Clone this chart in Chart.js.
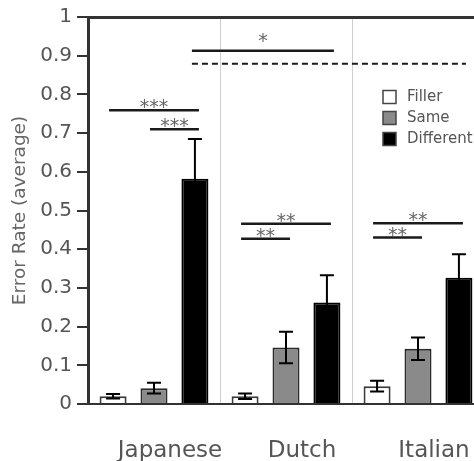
<!DOCTYPE html>
<html>
<head>
<meta charset="utf-8">
<script src="https://cdn.jsdelivr.net/npm/chart.js@4.4.0/dist/chart.umd.min.js"></script>
<style>
  html, body { margin:0; padding:0; background:#fff; overflow:hidden; width:474px; height:461px; }
  canvas { display:block; }
</style>
</head>
<body>
<canvas id="c" width="490" height="461"></canvas>
<script>
// ---- data ----
const categories = ['Japanese', 'Dutch', 'Italian'];
const seriesNames = ['Filler', 'Same', 'Different'];
const fillerValues = [0.020, 0.020, 0.046];
const sameValues = [0.041, 0.146, 0.143];
const differentValues = [0.582, 0.262, 0.326];
const fillerErrors = [0.006, 0.007, 0.014];
const sameErrors = [0.014, 0.041, 0.029];
const differentErrors = [0.103, 0.071, 0.061];
const yTickLabels = ['0','0.1','0.2','0.3','0.4','0.5','0.6','0.7','0.8','0.9','1'];
const yTitle = 'Error Rate (average)';
// significance brackets within a group: [group, fromSeries, toSeries, yValue, label]
const withinBrackets = [
  [0, 0, 2, 0.759, '***'],
  [0, 1, 2, 0.710, '***'],
  [1, 0, 2, 0.466, '**'],
  [1, 0, 1, 0.427, '**'],
  [2, 0, 2, 0.467, '**'],
  [2, 0, 1, 0.430, '**']
];
// across-group comparison of the "Different" series: [fromGroup, toGroup, yValue, label, dashed]
const acrossBrackets = [
  [0, 1, 0.913, '*', false],
  [0, 2, 0.879, '', true]
];

const FONT = 'DejaVu Sans';
const errorSets = [fillerErrors, sameErrors, differentErrors];

const errorBarPlugin = {
  id: 'errorBars',
  afterDatasetsDraw(chart) {
    const ctx = chart.ctx, y = chart.scales.y;
    ctx.save();
    ctx.strokeStyle = '#000';
    ctx.lineWidth = 2;
    chart.data.datasets.forEach((ds, i) => {
      const meta = chart.getDatasetMeta(i);
      meta.data.forEach((bar, j) => {
        const v = ds.data[j], e = errorSets[i][j];
        const yt = y.getPixelForValue(v + e), yb = y.getPixelForValue(v - e);
        const x = bar.x, hw = 7;
        ctx.beginPath();
        ctx.moveTo(x, yt); ctx.lineTo(x, yb);
        ctx.moveTo(x - hw, yt); ctx.lineTo(x + hw, yt);
        ctx.moveTo(x - hw, yb); ctx.lineTo(x + hw, yb);
        ctx.stroke();
      });
    });
    ctx.restore();
  }
};

const annotationPlugin = {
  id: 'sig',
  afterDraw(chart) {
    const ctx = chart.ctx, y = chart.scales.y;
    const barX = (s, g) => chart.getDatasetMeta(s).data[g].x;
    ctx.save();
    ctx.strokeStyle = '#1a1a1a';
    ctx.lineWidth = 2.5;
    ctx.fillStyle = '#666';
    ctx.font = '19px "' + FONT + '"';
    ctx.textAlign = 'center';
    ctx.textBaseline = 'alphabetic';
    withinBrackets.forEach(([g, a, b, v, t]) => {
      const x1 = barX(a, g) - 4, x2 = barX(b, g) + 4, py = y.getPixelForValue(v);
      ctx.beginPath(); ctx.moveTo(x1, py); ctx.lineTo(x2, py); ctx.stroke();
      ctx.fillText(t, (x1 + x2) / 2, py + 3);
    });
    acrossBrackets.forEach(([g1, g2, v, t, dashed]) => {
      const x1 = barX(2, g1) - 3, x2 = barX(2, g2) + 7, py = y.getPixelForValue(v);
      ctx.setLineDash(dashed ? [6, 4] : []);
      ctx.lineWidth = dashed ? 2 : 2.5;
      ctx.beginPath(); ctx.moveTo(x1, py); ctx.lineTo(x2, py); ctx.stroke();
      if (t) ctx.fillText(t, (x1 + x2) / 2, py - 4);
    });
    ctx.setLineDash([]);
    // legend inside the plot
    const area = chart.chartArea;
    const lx = area.left + 295, ly = area.top + 80;
    ctx.font = '15px "' + FONT + '"';
    ctx.textAlign = 'left';
    ctx.textBaseline = 'middle';
    chart.data.datasets.forEach((ds, i) => {
      const cy = ly + i * 21;
      ctx.fillStyle = ds.backgroundColor;
      ctx.fillRect(lx, cy - 6.5, 13, 13);
      ctx.lineWidth = 1.5;
      ctx.strokeStyle = '#444';
      ctx.strokeRect(lx, cy - 6.5, 13, 13);
      ctx.fillStyle = '#555';
      ctx.fillText(ds.label, lx + 24, cy);
    });
    ctx.restore();
  }
};

new Chart(document.getElementById('c'), {
  type: 'bar',
  data: {
    labels: categories,
    datasets: [
      { label: seriesNames[0], data: fillerValues, backgroundColor: '#ffffff', borderColor: '#3a3a3a', borderWidth: 2 },
      { label: seriesNames[1], data: sameValues, backgroundColor: '#8a8a8a', borderColor: '#2a2a2a', borderWidth: 2 },
      { label: seriesNames[2], data: differentValues, backgroundColor: '#000000', borderColor: '#000000', borderWidth: 2 }
    ]
  },
  options: {
    responsive: false,
    animation: false,
    devicePixelRatio: 1,
    layout: { padding: { top: 14, right: 6, left: 0, bottom: 0 } },
    datasets: { bar: { categoryPercentage: 0.93, barPercentage: 0.66 } },
    plugins: { legend: { display: false }, tooltip: { enabled: false } },
    scales: {
      x: {
        offset: true,
        grid: { offset: true, color: '#cfcfcf', lineWidth: 1, drawTicks: false },
        border: { color: '#333', width: 2 },
        ticks: { font: { family: FONT, size: 23 }, color: '#555', padding: 33, labelOffset: 16 },
        afterFit(s) { s.height = 57; }
      },
      xTop: {
        type: 'category',
        position: 'top',
        grid: { display: false, drawTicks: false },
        ticks: { display: false },
        border: { display: true, color: '#333', width: 3 },
        afterFit(s) { s.height = 0; }
      },
      y: {
        min: 0, max: 1,
        ticks: { stepSize: 0.1, font: { family: FONT, size: 20 }, color: '#555', padding: 5,
                 callback: (v, i) => yTickLabels[i] },
        grid: { drawOnChartArea: false, color: '#333', lineWidth: 2, tickLength: 11 },
        border: { color: '#333', width: 3 },
        title: { display: true, text: yTitle, font: { family: FONT, size: 18.5 }, color: '#666', padding: { top: 9, bottom: 0 } },
        afterFit(s) { s.width = 88; }
      }
    }
  },
  plugins: [errorBarPlugin, annotationPlugin]
});
</script>
</body>
</html>
